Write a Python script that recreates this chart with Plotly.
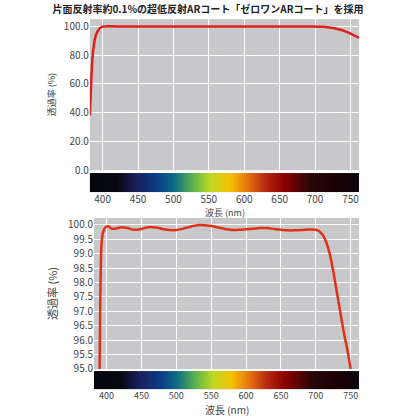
import plotly.graph_objects as go
import numpy as np

title = "片面反射率約0.1%の超低反射ARコート「ゼロワンARコート」を採用"
xlabel = "波長 (nm)"
ylabel = "透過率 (%)"

top_wl = [382, 384, 386, 388, 390, 393, 396, 400, 420, 450, 500, 550, 600, 650, 700, 710, 720, 730, 740, 750, 762]
top_t = [38, 62, 80, 88, 93, 96.5, 98.8, 99.8, 99.9, 99.8, 99.9, 99.9, 99.9, 99.8, 99.8, 99.7, 99.2, 98.3, 97.0, 95.0, 92.0]

bot_wl = [390, 391, 392, 393, 395, 398, 400, 403, 407, 415, 422, 430, 440, 450, 460, 470, 480, 490, 500, 510, 520, 530, 540,
          550, 560, 570, 580, 590, 600, 610, 620, 630, 640, 650, 660, 670, 680, 690, 700, 705, 710, 715, 720, 725, 730, 735,
          740, 745, 750]
bot_t = [95.0, 97.5, 98.8, 99.4, 99.75, 99.9, 99.94, 99.95, 99.87, 99.88, 99.92, 99.89, 99.83, 99.86, 99.92, 99.91, 99.86,
         99.82, 99.82, 99.87, 99.94, 99.99, 99.99, 99.96, 99.91, 99.86, 99.82, 99.83, 99.85, 99.87, 99.89, 99.89, 99.86,
         99.83, 99.81, 99.81, 99.82, 99.84, 99.83, 99.78, 99.65, 99.4, 99.0, 98.4, 97.7, 97.0, 96.3, 95.7, 95.0]

xticks = [400, 450, 500, 550, 600, 650, 700, 750]
top_yticks = [0, 20, 40, 60, 80, 100]
bot_yticks = [95.0, 95.5, 96.0, 96.5, 97.0, 97.5, 98.0, 98.5, 99.0, 99.5, 100.0]

spec_colors = [
    [0.0, "#050510"], [0.10, "#07070f"], [0.17, "#1a1f5c"], [0.25, "#0a3c85"], [0.31, "#0a6a85"],
    [0.38, "#5ab050"], [0.45, "#c0d820"], [0.52, "#f5c000"], [0.58, "#e87a10"], [0.65, "#b82a10"],
    [0.72, "#8a0000"], [0.82, "#2a0608"], [0.92, "#1a0002"], [1.0, "#08080f"]]

XR = [382, 762]
FONT = "Noto Sans CJK JP"
spec_x = np.linspace(XR[0], XR[1], 400)

fig = go.Figure()
fig.add_trace(go.Scatter(x=top_wl, y=top_t, mode="lines", line=dict(color="#e0201a", width=2.5, shape="spline"),
                         xaxis="x", yaxis="y", showlegend=False))
fig.add_trace(go.Heatmap(x=spec_x, y=[0], z=[spec_x], colorscale=spec_colors, showscale=False,
                         xaxis="x2", yaxis="y2"))
fig.add_trace(go.Scatter(x=bot_wl, y=bot_t, mode="lines", line=dict(color="#e0301a", width=2.5, shape="spline"),
                         xaxis="x3", yaxis="y3", showlegend=False))
fig.add_trace(go.Heatmap(x=spec_x, y=[0], z=[spec_x], colorscale=spec_colors, showscale=False,
                         xaxis="x4", yaxis="y4"))

tf = dict(family=FONT, size=10, color="#444")
tf9 = dict(family=FONT, size=9, color="#444")
grid = dict(showgrid=True, gridcolor="white", gridwidth=1.2, zeroline=False, automargin=False)
nog = dict(showgrid=False, zeroline=False, automargin=False)
fig.update_layout(
    width=416, height=416, margin=dict(l=0, r=0, t=0, b=0),
    paper_bgcolor="white", plot_bgcolor="#c8c8ca",
    font=dict(family=FONT),
    title=dict(text=title, x=0.5, y=0.976, xanchor="center", yanchor="middle",
               font=dict(family=FONT, size=10, color="#222", weight="bold")),
    xaxis=dict(domain=[0.216, 0.863], range=XR, anchor="y", tickvals=xticks, showticklabels=False, ticks="", **grid),
    yaxis=dict(domain=[0.591, 0.954], range=[0, 105], tickvals=top_yticks, tickformat=".1f", tickfont=tf,
               title=dict(text=ylabel, font=dict(family=FONT, size=9, color="#444"), standoff=6), ticks="", **grid),
    xaxis2=dict(domain=[0.216, 0.863], range=XR, anchor="y2", tickvals=xticks, tickfont=tf, ticks="",
                ticklabelstandoff=0, **nog),
    yaxis2=dict(domain=[0.538, 0.584], anchor="x2", showticklabels=False, **nog),
    xaxis3=dict(domain=[0.226, 0.863], range=XR, anchor="y3", tickvals=xticks, showticklabels=False, ticks="", **grid),
    yaxis3=dict(domain=[0.113, 0.476], range=[95.0, 100.24], anchor="x3", tickvals=bot_yticks, tickformat=".1f",
                tickfont=tf, title=dict(text=ylabel, font=dict(family=FONT, size=11, color="#444"), standoff=8),
                ticks="", **grid),
    xaxis4=dict(domain=[0.226, 0.863], range=XR, anchor="y4", tickvals=xticks, tickfont=tf9, ticks="",
                ticklabelstandoff=0, **nog),
    yaxis4=dict(domain=[0.064, 0.108], anchor="x4", showticklabels=False, **nog),
    annotations=[
        dict(text=xlabel, x=0.54, y=1 - 213 / 416, xref="paper", yref="paper", showarrow=False,
             xanchor="center", yanchor="middle", font=dict(family=FONT, size=9, color="#444")),
        dict(text=xlabel, x=0.545, y=1 - 409 / 416, xref="paper", yref="paper", showarrow=False,
             xanchor="center", yanchor="middle", font=dict(family=FONT, size=10, color="#444")),
    ],
)
fig.write_html("out.html", config={"displayModeBar": False},
               post_script="document.body.style.margin='0';document.body.style.overflow='hidden';")
